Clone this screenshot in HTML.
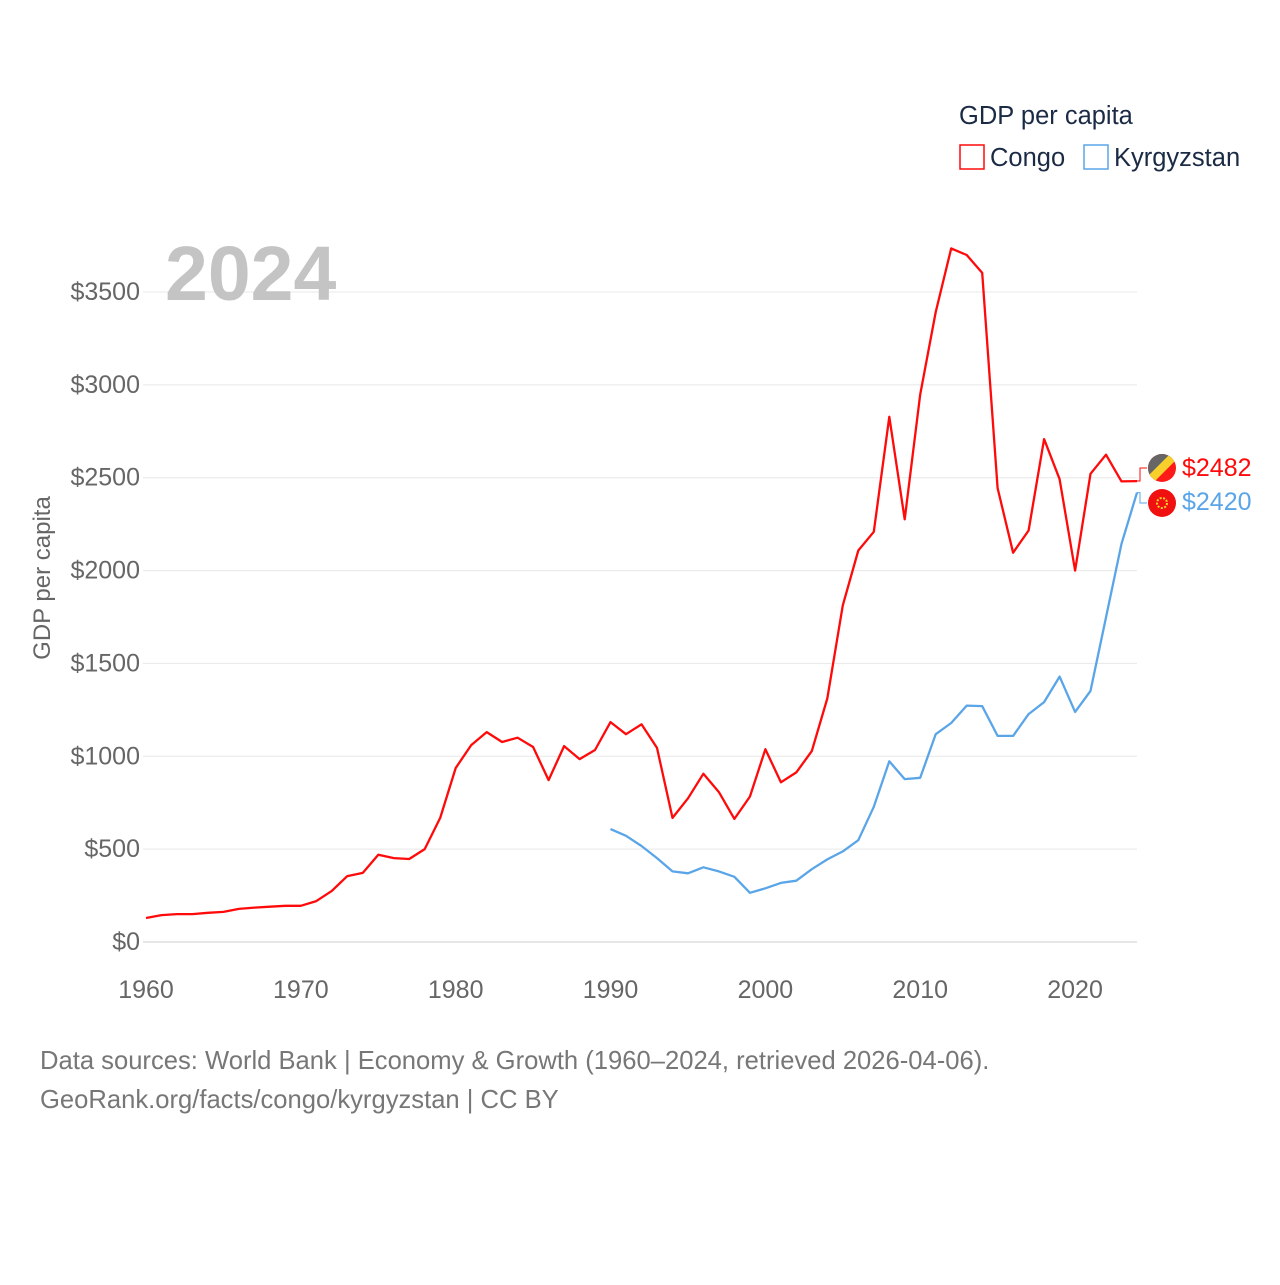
<!DOCTYPE html>
<html><head><meta charset="utf-8"><style>
body{margin:0;background:#fff;font-family:"Liberation Sans",sans-serif}
#wrap{position:relative;width:1280px;height:1280px}
</style></head><body><div id="wrap">
<svg id="chart" width="1280" height="1280" xmlns="http://www.w3.org/2000/svg"></svg>
</div>
<script>
const years = [];
for (let y = 1960; y <= 2024; y++) years.push(y);
const congoValues = [129,145,150,150,157,162,178,185,190,195,195,220,275,355,372,470,452,447,500,668,937,1060,1130,1077,1100,1050,872,1055,985,1034,1184,1119,1172,1045,668,774,906,807,663,783,1038,860,913,1028,1311,1813,2108,2209,2828,2276,2948,3392,3735,3699,3603,2444,2096,2216,2708,2492,2000,2521,2624,2480,2482];
const kgYears = [];
for (let y = 1990; y <= 2024; y++) kgYears.push(y);
const kyrgyzValues = [608,572,517,452,380,370,402,380,351,265,289,318,330,392,445,488,548,728,973,877,884,1119,1179,1273,1270,1110,1110,1227,1292,1429,1239,1352,1748,2144,2420];
const yTicks = [0,500,1000,1500,2000,2500,3000,3500];
const xTicks = [1960,1970,1980,1990,2000,2010,2020];

const NS = "http://www.w3.org/2000/svg";
const svg = document.getElementById('chart');
const X0 = 146, X1 = 1137, Y0 = 942, Ytop = 292;
const xs = yr => X0 + (yr - 1960) * (X1 - X0) / 64;
const ys = v => Y0 - v * (Y0 - Ytop) / 3500;
function el(tag, attrs, text) {
  const e = document.createElementNS(NS, tag);
  for (const k in attrs) e.setAttribute(k, attrs[k]);
  if (text !== undefined) e.textContent = text;
  svg.appendChild(e);
  return e;
}
yTicks.forEach(v => {
  const g = el('line', {x1: 143, x2: X1, y1: ys(v), y2: ys(v), stroke: v === 0 ? '#ddd' : '#e8e8e8', 'stroke-width': v === 0 ? 1.5 : 1});
  
  
  const t = el('text', {x: 140, y: ys(v) + 8, 'text-anchor': 'end', 'font-size': 25, fill: '#666'}, '$' + v);
  
  
});
xTicks.forEach(yr => {
  const t = el('text', {x: xs(yr), y: 998, 'text-anchor': 'middle', 'font-size': 25, fill: '#666'}, String(yr));
  
  
});
const yt = el('text', {x: 0, y: 0, transform: 'translate(50,578) rotate(-90)', 'text-anchor': 'middle', 'font-size': 24, fill: '#666'}, 'GDP per capita');


const yr = el('text', {x: 165, y: 300, 'font-size': 77, 'font-weight': 'bold', fill: '#c4c4c4'}, '2024');



function line(xv, vals, color, name) {
  const d = vals.map((v, i) => (i ? 'L' : 'M') + xs(xv[i]).toFixed(1) + ',' + ys(v).toFixed(1)).join('');
  const p = el('path', {d: d, fill: 'none', stroke: color, 'stroke-width': 2.3, 'stroke-linejoin': 'round'});
  
  
}
line(years, congoValues, '#ff0a0a', 'congo-line');
line(kgYears, kyrgyzValues, '#5aa5e8', 'kyrgyzstan-line');

const cEnd = ys(congoValues[congoValues.length - 1]), kEnd = ys(kyrgyzValues[kyrgyzValues.length - 1]);
const c1 = el('path', {d: `M${X1},${cEnd}H1140V468H1147`, fill: 'none', stroke: '#ff0a0a', 'stroke-width': 1});


const c2 = el('path', {d: `M${X1},${kEnd}H1140V503H1147`, fill: 'none', stroke: '#5aa5e8', 'stroke-width': 1});


const defs = el('defs', {});
defs.innerHTML = '<clipPath id="cf"><circle cx="1162" cy="468" r="14"/></clipPath>';
const fg = el('g', {'clip-path': 'url(#cf)'});


fg.innerHTML = '<rect x="1148" y="454" width="28" height="28" fill="#ff1a1a"/><polygon points="1148,454 1176,454 1148,482" fill="#666"/><polygon points="1164,454 1176,454 1176,460 1154,482 1148,482 1148,476 1170,454" fill="#f7d02c"/>';
svg.appendChild(fg);
const kf = el('circle', {cx: 1162, cy: 503, r: 14, fill: '#f01010'});


const ks = el('circle', {cx: 1162, cy: 503, r: 5, fill: 'none', stroke: '#f7d02c', 'stroke-width': 2, 'stroke-dasharray': '2 1.5'});


const v1 = el('text', {x: 1182, y: 476, 'font-size': 25, fill: '#ff0a0a'}, '$' + congoValues[congoValues.length - 1]);


const v2 = el('text', {x: 1182, y: 510, 'font-size': 25, fill: '#5aa5e8'}, '$' + kyrgyzValues[kyrgyzValues.length - 1]);



const lt = el('text', {x: 959, y: 124, 'font-size': 25.5, fill: '#1c2b45'}, 'GDP per capita');


const lr1 = el('rect', {x: 960, y: 145, width: 24, height: 24, fill: 'none', stroke: '#ff0a0a', 'stroke-width': 1.5});


const lx1 = el('text', {x: 990, y: 166, 'font-size': 25.5, fill: '#1c2b45'}, 'Congo');


const lr2 = el('rect', {x: 1084, y: 145, width: 24, height: 24, fill: 'none', stroke: '#5aa5e8', 'stroke-width': 1.5});


const lx2 = el('text', {x: 1114, y: 166, 'font-size': 25.5, fill: '#1c2b45'}, 'Kyrgyzstan');



const f1 = el('text', {x: 40, y: 1069, 'font-size': 25.6, fill: '#777'}, 'Data sources: World Bank | Economy & Growth (1960–2024, retrieved 2026-04-06).');


const f2 = el('text', {x: 40, y: 1108, 'font-size': 25.6, fill: '#777'}, 'GeoRank.org/facts/congo/kyrgyzstan | CC BY');


</script></body></html>
